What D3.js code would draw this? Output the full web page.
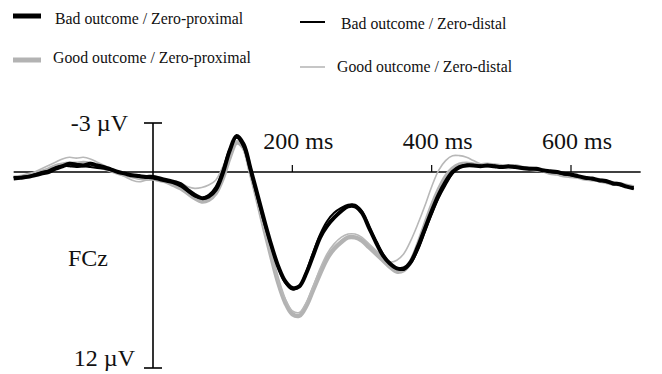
<!DOCTYPE html>
<html>
<head>
<meta charset="utf-8">
<script src="https://cdn.jsdelivr.net/npm/d3@7"></script>
<style>
  body { margin: 0; background: #fff; }
  svg text { font-family: "Liberation Serif", "Times New Roman", serif; fill: #111; }
</style>
</head>
<body>
<svg id="chart" width="662" height="374"></svg>
<script>
// Time points (ms), 10 ms apart from -200 to 690.
const times = d3.range(-200, 700, 10);

// Amplitude in microvolts (negative is drawn upward).
const badProximal = [
  0.4, 0.35, 0.3, 0.2, 0.1, 0.0, -0.2, -0.35, -0.5, -0.45,
  -0.4, -0.5, -0.4, -0.3, -0.15, 0.0, 0.1, 0.2, 0.25, 0.3,
  0.3, 0.4, 0.5, 0.6, 0.75, 1.1, 1.4, 1.6, 1.5, 1.1,
  0.1, -1.3, -2.2, -1.7, -0.2, 1.4, 3.0, 4.5, 5.8, 6.7,
  7.1, 7.0, 6.2, 5.1, 4.0, 3.3, 2.8, 2.4, 2.1, 2.1,
  2.5, 3.4, 4.3, 5.1, 5.6, 5.9, 5.9, 5.5, 4.6, 3.5,
  2.4, 1.4, 0.6, 0.0, -0.3, -0.4, -0.4, -0.35, -0.4, -0.35,
  -0.3, -0.35, -0.3, -0.25, -0.2, -0.2, -0.1, -0.05, 0.0, 0.1,
  0.15, 0.25, 0.35, 0.4, 0.5, 0.55, 0.7, 0.75, 0.9, 1.0
];
const badDistal = [
  0.3, 0.3, 0.25, 0.15, 0.0, -0.1, -0.3, -0.4, -0.35, -0.3,
  -0.35, -0.3, -0.25, -0.2, -0.1, 0.0, 0.1, 0.2, 0.3, 0.35,
  0.4, 0.5, 0.6, 0.7, 0.9, 1.2, 1.5, 1.6, 1.4, 0.9,
  -0.1, -1.4, -2.1, -1.5, 0.0, 1.6, 3.2, 4.6, 5.9, 6.8,
  7.2, 7.0, 6.1, 4.9, 3.8, 3.0, 2.5, 2.2, 2.0, 2.0,
  2.4, 3.3, 4.2, 5.0, 5.6, 5.9, 6.0, 5.6, 4.8, 3.7,
  2.6, 1.6, 0.8, 0.1, -0.3, -0.45, -0.4, -0.4, -0.35, -0.4,
  -0.35, -0.3, -0.3, -0.2, -0.25, -0.15, -0.1, 0.0, 0.05, 0.15,
  0.2, 0.3, 0.3, 0.45, 0.5, 0.6, 0.65, 0.8, 0.85, 1.05
];
const goodProximal = [
  0.35, 0.3, 0.2, 0.1, 0.0, -0.15, -0.35, -0.45, -0.5, -0.5,
  -0.55, -0.5, -0.4, -0.25, -0.1, 0.05, 0.15, 0.25, 0.35, 0.4,
  0.4, 0.5, 0.6, 0.8, 1.0, 1.3, 1.6, 1.8, 1.7, 1.3,
  0.4, -0.9, -1.8, -1.5, 0.0, 1.7, 3.5, 5.2, 6.8, 8.0,
  8.7, 8.8, 8.2, 7.2, 6.2, 5.3, 4.7, 4.3, 4.0, 4.0,
  4.2, 4.6, 5.0, 5.4, 5.8, 6.1, 6.0, 5.5, 4.5, 3.3,
  2.1, 1.1, 0.3, -0.2, -0.45, -0.5, -0.45, -0.4, -0.45, -0.4,
  -0.35, -0.3, -0.35, -0.25, -0.2, -0.15, -0.1, 0.05, 0.1, 0.2,
  0.25, 0.3, 0.4, 0.45, 0.5, 0.6, 0.7, 0.75, 0.85, 0.95
];
const goodDistal = [
  0.3, 0.25, 0.2, 0.0, -0.2, -0.4, -0.6, -0.8, -0.9, -0.85,
  -0.9, -0.8, -0.6, -0.4, -0.2, 0.1, 0.3, 0.5, 0.6, 0.5,
  0.45, 0.5, 0.55, 0.6, 0.7, 0.9, 1.0, 0.95, 0.8, 0.5,
  -0.3, -1.3, -1.9, -1.5, 0.0, 1.8, 3.6, 5.2, 6.7, 7.8,
  8.5, 8.6, 8.0, 7.0, 5.9, 5.0, 4.4, 4.0, 3.8, 3.8,
  4.0, 4.4, 4.8, 5.2, 5.5, 5.4, 5.0, 4.2, 3.2, 2.1,
  0.9, -0.1, -0.7, -1.0, -1.0, -0.9, -0.7, -0.5, -0.4, -0.45,
  -0.4, -0.35, -0.25, -0.3, -0.2, -0.1, -0.15, 0.0, 0.1, 0.2,
  0.15, 0.3, 0.4, 0.35, 0.5, 0.55, 0.6, 0.8, 0.9, 1.0
];

// Axis labels.
const xTicks = [200, 400, 600];
const yTicks = [-3, 12];
const channel = "FCz";

// Legend entries.
const legendLabels = [
  "Bad outcome / Zero-proximal",
  "Good outcome / Zero-proximal",
  "Bad outcome / Zero-distal",
  "Good outcome / Zero-distal"
];

const svg = d3.select("#chart");

// Scales: time to x, microvolts to y (negative up).
const x = d3.scaleLinear().domain([0, 600]).range([153, 571]);
const y = d3.scaleLinear().domain([-3, 12]).range([123, 368]);

// Line styles for each condition.
const styles = [
  { color: "#000", width: 4 },
  { color: "#b3b3b3", width: 4.5 },
  { color: "#000", width: 2 },
  { color: "#b8b8b8", width: 1.6 }
];

// Baseline (0 uV) and tick marks.
svg.append("line")
  .attr("x1", x(-200)).attr("x2", x(700))
  .attr("y1", y(0)).attr("y2", y(0))
  .attr("stroke", "#000").attr("stroke-width", 1.6);

svg.selectAll(".xtick")
  .data(xTicks)
  .enter()
  .append("line")
  .attr("x1", d => x(d)).attr("x2", d => x(d))
  .attr("y1", y(0)).attr("y2", y(0) - 7)
  .attr("stroke", "#000").attr("stroke-width", 1.2);

svg.selectAll(".xlabel")
  .data(xTicks)
  .enter()
  .append("text")
  .attr("x", d => x(d) + 6)
  .attr("y", 149)
  .attr("text-anchor", "middle")
  .attr("font-size", 24)
  .text(d => d + " ms");

// Vertical axis at time zero.
svg.append("line")
  .attr("x1", x(0)).attr("x2", x(0))
  .attr("y1", y(-3)).attr("y2", y(12))
  .attr("stroke", "#000").attr("stroke-width", 1.6);

svg.selectAll(".ytick")
  .data(yTicks)
  .enter()
  .append("line")
  .attr("x1", x(0) - 9).attr("x2", x(0) + 9)
  .attr("y1", d => y(d)).attr("y2", d => y(d))
  .attr("stroke", "#000").attr("stroke-width", 1.6);

// Top label sits beside its tick, bottom label just above the edge.
svg.selectAll(".ylabel")
  .data(yTicks)
  .enter()
  .append("text")
  .attr("x", d => d < 0 ? x(0) - 25 : x(0) - 18)
  .attr("y", d => d < 0 ? y(d) + 8 : y(d) - 2)
  .attr("text-anchor", "end")
  .attr("font-size", 24)
  .text(d => d + " \u00b5V");

svg.append("text")
  .attr("x", 68).attr("y", 266)
  .attr("font-size", 24)
  .text(channel);

// Waveforms, grey ones underneath.
const series = [badProximal, goodProximal, badDistal, goodDistal];
const drawOrder = [1, 3, 2, 0];

const line = d3.line()
  .x((d, i) => x(times[i]))
  .y(d => y(d))
  .curve(d3.curveCatmullRom);

drawOrder.forEach(k => {
  svg.append("path")
    .datum(series[k])
    .attr("d", line)
    .attr("fill", "none")
    .attr("stroke", styles[k].color)
    .attr("stroke-width", styles[k].width)
    .attr("stroke-linejoin", "round");
});

// Legend.
const legendPos = [
  { x1: 13, x2: 41, ly: 16, tx: 55, ty: 24 },
  { x1: 13, x2: 41, ly: 60, tx: 53, ty: 63 },
  { x1: 300, x2: 325, ly: 22, tx: 341, ty: 29 },
  { x1: 300, x2: 325, ly: 67, tx: 337, ty: 72 }
];

legendLabels.forEach((label, k) => {
  const p = legendPos[k];
  svg.append("line")
    .attr("x1", p.x1).attr("x2", p.x2)
    .attr("y1", p.ly).attr("y2", p.ly)
    .attr("stroke", styles[k].color)
    .attr("stroke-width", k < 2 ? 5 : styles[k].width);
  svg.append("text")
    .attr("x", p.tx).attr("y", p.ty)
    .attr("font-size", 15.8)
    .text(label);
});
</script>
</body>
</html>
